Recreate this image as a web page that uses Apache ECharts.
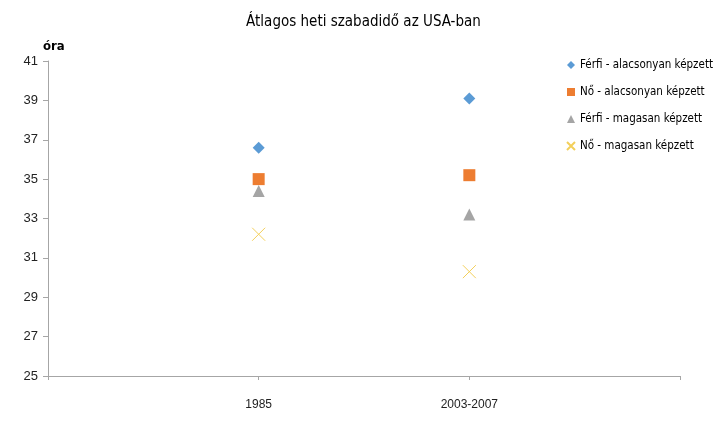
<!DOCTYPE html>
<html><head><meta charset="utf-8">
<script src="https://cdn.jsdelivr.net/npm/echarts@6/dist/echarts.min.js"></script>
<style>html,body{margin:0;padding:0;background:#fff}#c{width:727px;height:430px}</style>
</head><body><div id="c"></div>
<script>
const categories = ['', '1985', '2003-2007', ''];
const seriesNames = ['Férfi - alacsonyan képzett', 'Nő - alacsonyan képzett', 'Férfi - magasan képzett', 'Nő - magasan képzett'];
const ferfiAlacsony = ['-', 36.6, 39.1, '-'];
const noAlacsony = ['-', 35.0, 35.2, '-'];
const ferfiMagas = ['-', 34.4, 33.2, '-'];
const noMagas = ['-', 32.2, 30.3, '-'];
const yTicks = {min: 25, max: 41, interval: 2};

const FONT = '"Liberation Sans Narrow", "DejaVu Sans Condensed", "Liberation Sans", sans-serif';
const xPath = 'path://M0,0L10,10M10,0L0,10';
const chart = echarts.init(document.getElementById('c'));
chart.setOption({
  animation: false,
  title: {
    text: 'Átlagos heti szabadidő az USA-ban',
    left: 'center', top: 10,
    textStyle: {fontFamily: FONT, fontSize: 15, fontWeight: 'normal', color: '#000'}
  },
  legend: {
    orient: 'vertical', left: 561, top: 54, itemGap: 15, itemWidth: 8, itemHeight: 8,
    textStyle: {fontFamily: FONT, fontSize: 11.5, color: '#000'},
    data: [
      {name: seriesNames[0], icon: 'diamond'},
      {name: seriesNames[1], icon: 'rect'},
      {name: seriesNames[2], icon: 'triangle'},
      {name: seriesNames[3], icon: xPath}
    ]
  },
  grid: {left: 48, right: 47, top: 61, bottom: 54},
  xAxis: {
    type: 'category', data: categories, boundaryGap: false,
    axisLine: {lineStyle: {color: '#a6a6a6'}},
    axisTick: {show: true, length: 4, lineStyle: {color: '#a6a6a6'}, interval: 0},
    axisLabel: {interval: 0, margin: 23, fontFamily: '"Liberation Sans", sans-serif', fontSize: 12, color: '#222'}
  },
  yAxis: {
    type: 'value', min: yTicks.min, max: yTicks.max, interval: yTicks.interval,
    name: 'óra', nameLocation: 'end', nameGap: 8,
    nameTextStyle: {fontFamily: FONT, fontSize: 13, fontWeight: 'bold', color: '#000', align: 'left', padding: [0, 0, 0, -5]},
    axisLine: {show: true, lineStyle: {color: '#a6a6a6'}},
    axisTick: {show: true, length: 5, lineStyle: {color: '#a6a6a6'}},
    axisLabel: {margin: 10, fontFamily: '"Liberation Sans", sans-serif', fontSize: 13, color: '#222'},
    splitLine: {show: false}
  },
  series: [
    {name: seriesNames[0], type: 'scatter', data: ferfiAlacsony, symbol: 'diamond', symbolSize: 12, itemStyle: {color: '#5b9bd5', opacity: 1}},
    {name: seriesNames[1], type: 'scatter', data: noAlacsony, symbol: 'rect', symbolSize: 12, itemStyle: {color: '#ed7d31', opacity: 1}},
    {name: seriesNames[2], type: 'scatter', data: ferfiMagas, symbol: 'triangle', symbolSize: 12, itemStyle: {color: '#a5a5a5', opacity: 1}},
    {name: seriesNames[3], type: 'scatter', data: noMagas, symbol: xPath, symbolSize: 13,
     itemStyle: {color: 'rgba(0,0,0,0)', borderColor: '#f3cf5a', borderWidth: 1, opacity: 1}}
  ]
});
</script></body></html>
